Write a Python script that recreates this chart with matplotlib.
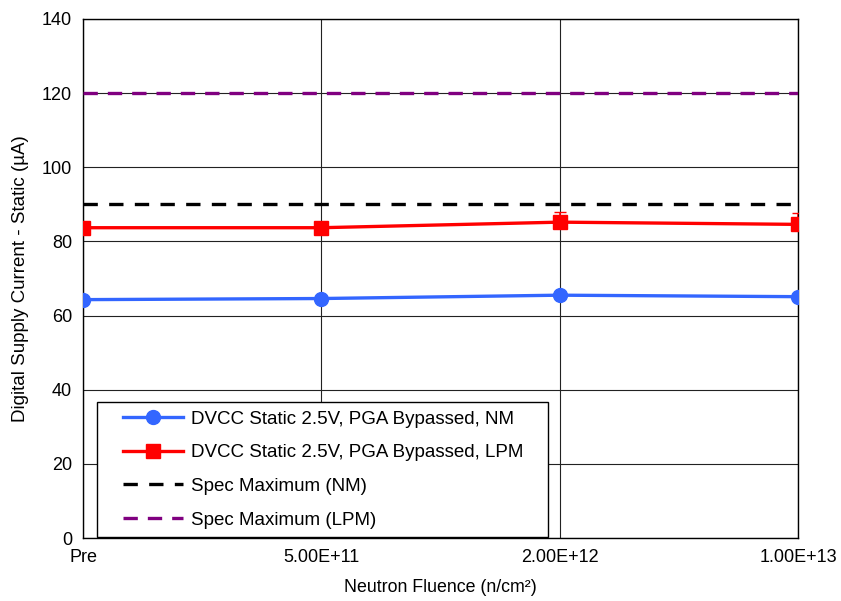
import numpy as np
import matplotlib.pyplot as plt
from matplotlib.legend_handler import HandlerLine2D

plt.rcParams['font.family'] = ['Liberation Sans', 'DejaVu Sans']

# fluence steps and measured static DVCC current (uA)
fluence = ['Pre', '5.00E+11', '2.00E+12', '1.00E+13']
dvcc_nm = [64.3, 64.6, 65.5, 65.1]
dvcc_lpm = [83.7, 83.7, 85.2, 84.6]
lpm_err_up = [0.0, 0.0, 2.7, 3.0]
spec_nm = 90
spec_lpm = 120

x = np.arange(len(fluence))

fig = plt.figure(figsize=(8.41, 6.01), dpi=100)
ax = fig.add_axes([0.0987, 0.1048, 0.8502, 0.8636])

ax.plot(x, dvcc_nm, color='#3366ff', lw=2.4, marker='o', ms=10,
        label='DVCC Static 2.5V, PGA Bypassed, NM', zorder=4)
ax.plot(x, dvcc_lpm, color='#ff0000', lw=2.4, marker='s', ms=10,
        label='DVCC Static 2.5V, PGA Bypassed, LPM   ', zorder=4)
# upper error bars on the LPM points
ax.errorbar(x, dvcc_lpm, yerr=[np.zeros(len(x)), lpm_err_up], fmt='none',
            ecolor='#ff0000', elinewidth=1.2, capsize=4, zorder=3)
ax.axhline(spec_nm, color='black', lw=2.4, dashes=(4.3, 3.4),
           label='Spec Maximum (NM)', zorder=3)
ax.axhline(spec_lpm, color='#800080', lw=2.4, dashes=(4.3, 3.0),
           label='Spec Maximum (LPM)', zorder=3)

ax.set_xlim(0, 3)
ax.set_ylim(0, 140)
ax.set_yticks(np.arange(0, 141, 20))
ax.set_xticks(x)
ax.set_xticklabels(fluence)
ax.tick_params(length=0, labelsize=13, pad=8)
ax.grid(True, color='#222222', lw=0.8)
ax.set_axisbelow(True)
for s in ax.spines.values():
    s.set_color('black')
    s.set_linewidth(1.0)

ax.set_xlabel('Neutron Fluence (n/cm²)', fontsize=12.8, labelpad=9)
ax.set_ylabel('Digital Supply Current - Static (µA)', fontsize=13.5, labelpad=9)

# legend handles sit a bit in from the frame's left edge
pad = HandlerLine2D(xpad=0.96)
leg = ax.legend(loc='lower left', bbox_to_anchor=(0.0196, 0.002), borderaxespad=0,
                fontsize=13.5, fancybox=False, edgecolor='black', framealpha=1,
                handlelength=4.16, handletextpad=0.4, labelspacing=0.88,
                borderpad=0.45, handler_map={plt.Line2D: pad})
leg.get_frame().set_linewidth(1.0)

fig.savefig('out.png', dpi=100)
